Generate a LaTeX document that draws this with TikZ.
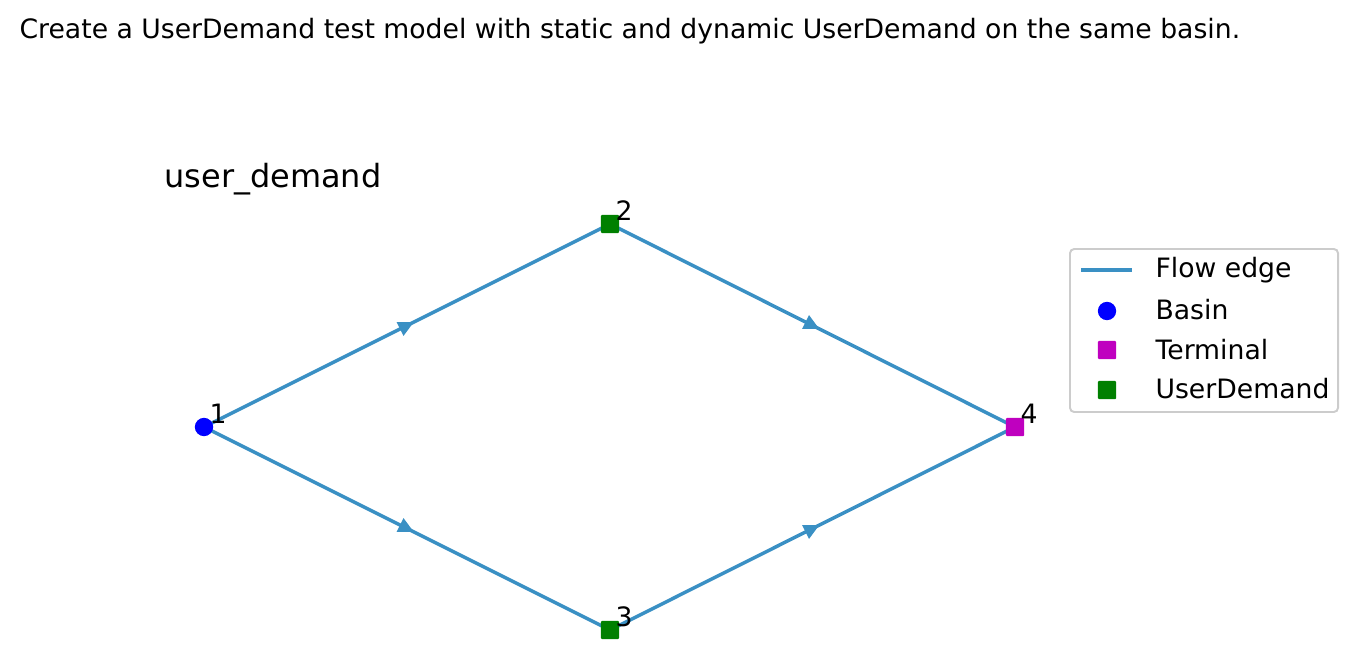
\documentclass[tikz,border=0pt]{standalone}
\usepackage{fontspec}
\setmainfont{DejaVu Sans}
\usetikzlibrary{arrows.meta,decorations.markings}
\definecolor{flowColor}{HTML}{3A90C4}
\definecolor{basinColor}{HTML}{0000FF}
\definecolor{termColor}{HTML}{BF00BF}
\definecolor{udColor}{HTML}{008000}
\definecolor{legColor}{HTML}{CCCCCC}
\tikzset{
	flow/.style={draw=flowColor, line width=1.25pt, decoration={
			markings,
			mark=at position 0.5 with {\arrow[flowColor, xshift=2.8pt]{Triangle[length=5.6pt,width=5.2pt]}}},postaction={decorate}},
	basin/.style={circle, fill=basinColor, minimum size=6.6pt, inner sep=0},
	terminal/.style={rectangle, fill=termColor, minimum size=6.6pt, inner sep=0, rounded corners=0.4pt},
	userdemand/.style={rectangle, fill=udColor, minimum size=6.6pt, inner sep=0, rounded corners=0.4pt},
	idlab/.style={anchor=south west, inner sep=0, font=\fontsize{9.6}{11}\selectfont},
	legtxt/.style={anchor=west, inner sep=0, font=\fontsize{9.6}{11}\selectfont}
}
\begin{document}
\begin{tikzpicture}[x=0.36pt, y=-0.36pt]
	\useasboundingbox (0,0) rectangle (1358,669);
	\node[anchor=west, inner sep=0, font=\fontsize{9.6}{11}\selectfont] (title) at (19,31) {Create a UserDemand test model with static and dynamic UserDemand on the same basin.};
	\node[anchor=west, inner sep=0, font=\fontsize{11.5}{14}\selectfont] (axtitle) at (164,179) {user\_demand};
	
	\coordinate (p1) at (204,427);
	\coordinate (p2) at (610,224);
	\coordinate (p3) at (610,630);
	\coordinate (p4) at (1015,427);
	
	\path[flow] (p1) -- (p2);
	\path[flow] (p1) -- (p3);
	\path[flow] (p2) -- (p4);
	\path[flow] (p3) -- (p4);
	
	\node[basin] (n1) at (p1) {};
	\node[userdemand] (n2) at (p2) {};
	\node[userdemand] (n3) at (p3) {};
	\node[terminal] (n4) at (p4) {};
	
	\node[idlab] (l1) at (209,424) {1};
	\node[idlab] (l2) at (615,221) {2};
	\node[idlab] (l3) at (615,627) {3};
	\node[idlab] (l4) at (1020,424) {4};
	
	% legend
	\node[draw=legColor, line width=0.7pt, fill=white, rounded corners=1.5pt, minimum width=268*0.36pt, minimum height=163*0.36pt, inner sep=0] (leg) at (1204,330.5) {};
	\coordinate (la) at (1081,270);
	\coordinate (lb) at (1132,270);
	\path[draw=flowColor, line width=1.25pt] (la) -- (lb);
	\node[basin] (lbasin) at (1107,311) {};
	\node[terminal] (lterm) at (1107,350) {};
	\node[userdemand] (lud) at (1107,390) {};
	\node[legtxt] (t1) at (1155,270) {Flow edge};
	\node[legtxt] (t2) at (1155,310) {Basin};
	\node[legtxt] (t3) at (1155,350) {Terminal};
	\node[legtxt] (t4) at (1155,389) {UserDemand};
\end{tikzpicture}
\end{document}
